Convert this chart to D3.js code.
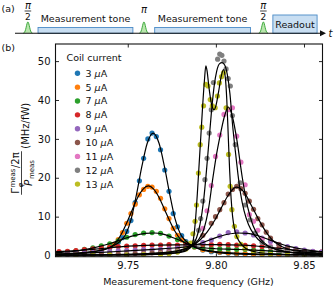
<!DOCTYPE html>
<html><head><meta charset="utf-8">
<script src="https://cdn.jsdelivr.net/npm/d3@7/dist/d3.min.js"></script>
<style>
body{margin:0;background:#fff}
svg{display:block}
text{font-family:"DejaVu Sans",Verdana,sans-serif;fill:#111}
</style></head>
<body><svg id="c" width="334" height="289"></svg>
<script>
// ---------------- data (panel b) ----------------
const currents = ["3", "5", "7", "8", "9", "10", "11", "12", "13"];
const colors = ["#1f77b4","#ff7f0e","#2ca02c","#d62728","#9467bd","#8c564b","#e377c2","#7f7f7f","#bcbd22"];
const xTicks = [9.75, 9.80, 9.85];
const yTicks = [0, 10, 20, 30, 40, 50];

// measured points [frequency GHz, value MHz/fW]
const pts3 = [[9.7110,0.3],[9.7158,0.4],[9.7206,0.5],[9.7254,0.7],[9.7302,0.9],[9.7350,1.4],[9.7398,2.0],[9.7422,2.6],[9.7446,3.4],[9.7470,4.6],[9.7494,6.2],[9.7518,9.0],[9.7542,13.6],[9.7566,19.2],[9.7590,25.0],[9.7614,30.0],[9.7638,31.5],[9.7662,30.6],[9.7686,27.2],[9.7710,22.0],[9.7734,16.5],[9.7758,10.8],[9.7782,7.4],[9.7806,5.1],[9.7830,3.6],[9.7854,2.9],[9.7878,2.2],[9.7926,1.4],[9.7974,1.0],[9.8022,0.8],[9.8070,0.6],[9.8118,0.4],[9.8166,0.35],[9.8214,0.3],[9.8262,0.25],[9.8310,0.2],[9.8358,0.2],[9.8406,0.2],[9.8454,0.15],[9.8502,0.15],[9.8550,0.1],[9.8598,0.1]];
const pts5 = [[9.7110,0.5],[9.7158,0.6],[9.7206,0.7],[9.7254,0.9],[9.7302,1.1],[9.7350,1.5],[9.7398,2.2],[9.7422,2.9],[9.7446,4.1],[9.7470,5.9],[9.7494,8.3],[9.7518,10.8],[9.7542,13.2],[9.7566,15.6],[9.7590,17.0],[9.7614,17.8],[9.7638,17.6],[9.7662,16.5],[9.7686,14.7],[9.7710,12.0],[9.7734,9.5],[9.7758,7.0],[9.7782,5.2],[9.7806,4.0],[9.7830,3.2],[9.7854,2.7],[9.7878,2.2],[9.7926,1.5],[9.7974,1.2],[9.8022,0.9],[9.8070,0.7],[9.8118,0.6],[9.8166,0.5],[9.8214,0.45],[9.8262,0.4],[9.8310,0.35],[9.8358,0.3],[9.8406,0.3],[9.8454,0.25],[9.8502,0.2],[9.8550,0.2],[9.8598,0.2]];
const pts7 = [[9.7110,0.8],[9.7158,1.0],[9.7206,1.2],[9.7254,1.6],[9.7302,2.0],[9.7350,2.5],[9.7398,3.0],[9.7446,3.8],[9.7494,4.7],[9.7542,5.4],[9.7590,5.8],[9.7638,5.9],[9.7686,5.7],[9.7734,5.0],[9.7782,4.1],[9.7830,3.2],[9.7878,2.3],[9.7926,2.0],[9.7974,1.8],[9.8022,1.7],[9.8070,1.7],[9.8118,1.6],[9.8166,1.6],[9.8214,1.4],[9.8262,1.3],[9.8310,1.1],[9.8358,0.9],[9.8406,0.8],[9.8454,0.7],[9.8502,0.6],[9.8550,0.5],[9.8598,0.5]];
const pts8 = [[9.7110,1.0],[9.7158,1.1],[9.7206,1.3],[9.7254,1.5],[9.7302,1.7],[9.7350,1.9],[9.7398,2.1],[9.7446,2.3],[9.7494,2.4],[9.7542,2.5],[9.7590,2.6],[9.7638,2.7],[9.7686,2.7],[9.7734,2.8],[9.7782,2.7],[9.7830,2.8],[9.7878,2.8],[9.7926,2.9],[9.7974,2.8],[9.8022,2.9],[9.8070,2.8],[9.8118,2.7],[9.8166,2.6],[9.8214,2.5],[9.8262,2.3],[9.8310,2.1],[9.8358,1.9],[9.8406,1.6],[9.8454,1.4],[9.8502,1.2],[9.8550,1.0],[9.8598,0.9]];
const pts9 = [[9.7110,0.4],[9.7158,0.5],[9.7206,0.6],[9.7254,0.7],[9.7302,0.8],[9.7350,0.9],[9.7398,1.0],[9.7446,1.2],[9.7494,1.3],[9.7542,1.4],[9.7590,1.5],[9.7638,1.5],[9.7686,1.6],[9.7734,1.7],[9.7782,1.9],[9.7830,2.2],[9.7878,2.7],[9.7926,3.3],[9.7974,4.0],[9.8022,5.0],[9.8070,5.9],[9.8118,6.1],[9.8166,5.8],[9.8214,5.3],[9.8262,4.5],[9.8310,3.6],[9.8358,2.9],[9.8406,2.3],[9.8454,1.8],[9.8502,1.4],[9.8550,1.1],[9.8598,0.9]];
const pts10 = [[9.7110,0.15],[9.7158,0.2],[9.7206,0.2],[9.7254,0.25],[9.7302,0.3],[9.7350,0.3],[9.7398,0.35],[9.7446,0.4],[9.7494,0.45],[9.7542,0.5],[9.7590,0.6],[9.7638,0.7],[9.7686,0.8],[9.7734,1.0],[9.7782,1.4],[9.7830,2.0],[9.7878,3.0],[9.7926,5.2],[9.7974,8.3],[9.7998,10.0],[9.8022,11.8],[9.8046,13.6],[9.8070,15.8],[9.8094,17.0],[9.8118,17.8],[9.8142,17.2],[9.8166,16.0],[9.8190,14.0],[9.8214,11.9],[9.8238,9.5],[9.8262,7.9],[9.8286,6.0],[9.8310,4.5],[9.8358,2.8],[9.8406,1.8],[9.8454,1.2],[9.8502,0.9],[9.8550,0.7],[9.8598,0.5]];
const pts11 = [[9.7110,0.1],[9.7206,0.1],[9.7302,0.15],[9.7398,0.2],[9.7494,0.25],[9.7590,0.35],[9.7686,0.5],[9.7734,0.7],[9.7782,1.1],[9.7830,1.8],[9.7878,3.2],[9.7926,7.0],[9.7950,11.5],[9.7974,18.0],[9.7998,25.5],[9.8022,31.0],[9.8046,36.3],[9.8070,37.5],[9.8094,38.0],[9.8118,30.7],[9.8142,24.0],[9.8166,18.2],[9.8190,10.5],[9.8214,8.8],[9.8238,6.5],[9.8262,4.2],[9.8310,2.4],[9.8358,1.3],[9.8406,0.9],[9.8454,0.6],[9.8502,0.45],[9.8550,0.35],[9.8598,0.3]];
const pts12 = [[9.7110,0.1],[9.7206,0.1],[9.7302,0.1],[9.7398,0.15],[9.7494,0.2],[9.7590,0.3],[9.7686,0.45],[9.7734,0.6],[9.7782,1.0],[9.7830,1.8],[9.7878,3.5],[9.7902,6.5],[9.7914,9.5],[9.7926,14.0],[9.7938,19.5],[9.7950,25.0],[9.7962,31.5],[9.7974,37.5],[9.7986,44.5],[9.8010,50.5],[9.8022,51.8],[9.8034,51.5],[9.8046,50.0],[9.8058,48.0],[9.8070,45.5],[9.8082,43.6],[9.8094,36.0],[9.8110,28.5],[9.8138,18.7],[9.8166,13.0],[9.8195,9.2],[9.8223,5.8],[9.8262,3.4],[9.8310,2.2],[9.8358,1.4],[9.8406,0.9],[9.8454,0.6],[9.8502,0.45],[9.8550,0.35],[9.8598,0.3]];
const pts13 = [[9.7110,0.1],[9.7206,0.1],[9.7302,0.12],[9.7398,0.15],[9.7494,0.2],[9.7590,0.25],[9.7686,0.35],[9.7734,0.5],[9.7782,0.9],[9.7830,1.7],[9.7858,3.2],[9.7870,5.6],[9.7882,8.8],[9.7890,13.0],[9.7901,21.2],[9.7911,28.5],[9.7920,33.0],[9.7930,38.5],[9.7943,44.0],[9.7955,43.6],[9.7968,40.1],[9.7980,38.5],[9.7996,38.0],[9.8009,41.0],[9.8020,44.4],[9.8032,46.0],[9.8043,47.0],[9.8058,38.0],[9.8072,26.0],[9.8081,17.8],[9.8091,11.8],[9.8105,7.5],[9.8119,4.9],[9.8142,2.9],[9.8166,1.8],[9.8214,1.0],[9.8262,0.6],[9.8310,0.4],[9.8406,0.25],[9.8502,0.2],[9.8598,0.15]];

// fitted curves [frequency GHz, value]
const fit3 = [[9.700,0.2],[9.718,0.45],[9.731,1.0],[9.737,1.6],[9.7419,2.5],[9.746,3.8],[9.749,5.6],[9.752,9.5],[9.755,15.8],[9.758,22.9],[9.761,28.8],[9.7644,31.5],[9.7678,28.8],[9.7708,22.9],[9.7738,15.8],[9.7768,9.5],[9.7798,5.6],[9.7828,3.8],[9.7865,2.5],[9.791,1.6],[9.797,1.0],[9.810,0.45],[9.830,0.2],[9.865,0.1]];
const fit5 = [[9.700,0.3],[9.720,0.6],[9.730,1.0],[9.737,1.6],[9.7407,2.3],[9.7437,3.6],[9.7467,5.8],[9.7497,8.7],[9.7527,11.9],[9.7557,15.0],[9.7587,17.1],[9.7617,17.9],[9.7647,17.1],[9.7677,15.0],[9.7707,12.0],[9.7737,9.0],[9.7767,6.3],[9.7797,4.3],[9.783,3.1],[9.7865,2.4],[9.792,1.6],[9.800,1.0],[9.815,0.55],[9.835,0.3],[9.865,0.15]];
const fit7 = [[9.700,0.5],[9.710,0.75],[9.720,1.1],[9.730,1.9],[9.740,3.1],[9.747,4.2],[9.754,5.2],[9.760,5.7],[9.765,5.8],[9.770,5.5],[9.775,4.7],[9.781,3.6],[9.7865,2.5],[9.793,2.0],[9.800,1.75],[9.810,1.6],[9.820,1.45],[9.830,1.2],[9.840,0.9],[9.850,0.7],[9.865,0.5]];
const fit8 = [[9.700,0.8],[9.710,1.0],[9.720,1.25],[9.730,1.6],[9.740,2.0],[9.750,2.4],[9.760,2.6],[9.780,2.75],[9.800,2.8],[9.815,2.7],[9.825,2.35],[9.835,1.9],[9.845,1.4],[9.855,1.05],[9.865,0.8]];
const fit9 = [[9.700,0.3],[9.720,0.5],[9.735,0.8],[9.750,1.2],[9.765,1.6],[9.778,2.0],[9.7865,2.5],[9.793,3.4],[9.800,4.6],[9.806,5.4],[9.812,5.8],[9.818,5.7],[9.824,5.1],[9.830,4.1],[9.836,3.1],[9.842,2.3],[9.850,1.6],[9.858,1.1],[9.865,0.9]];
const fit10 = [[9.700,0.1],[9.740,0.25],[9.760,0.5],[9.775,1.0],[9.7865,2.5],[9.791,4.0],[9.795,6.0],[9.799,8.8],[9.803,12.2],[9.807,15.5],[9.8115,17.6],[9.816,16.3],[9.820,13.0],[9.824,9.5],[9.828,6.4],[9.832,4.0],[9.837,2.4],[9.844,1.3],[9.852,0.8],[9.865,0.4]];
const fit11 = [[9.700,0.05],[9.750,0.2],[9.770,0.6],[9.780,1.3],[9.7865,2.6],[9.790,4.0],[9.793,6.5],[9.796,12.5],[9.798,19.0],[9.800,25.0],[9.8025,31.0],[9.805,36.0],[9.807,38.2],[9.8095,35.5],[9.812,29.5],[9.815,20.0],[9.818,12.5],[9.821,7.8],[9.825,4.4],[9.830,2.4],[9.837,1.2],[9.847,0.6],[9.865,0.25]];
const fit12 = [[9.700,0.05],[9.760,0.25],[9.775,0.6],[9.782,1.3],[9.7865,2.6],[9.789,4.5],[9.791,8.0],[9.793,14.0],[9.7945,21.0],[9.796,29.0],[9.7975,37.0],[9.799,43.5],[9.8005,47.5],[9.802,49.3],[9.8035,49.6],[9.805,49.0],[9.8065,46.5],[9.808,41.5],[9.8095,33.5],[9.811,27.0],[9.8125,21.0],[9.814,16.0],[9.816,11.5],[9.8185,8.0],[9.822,5.2],[9.827,3.0],[9.833,1.8],[9.840,1.0],[9.850,0.5],[9.865,0.25]];
const fit13 = [[9.700,0.05],[9.750,0.15],[9.770,0.35],[9.780,0.8],[9.784,1.5],[9.7865,2.6],[9.7875,5.0],[9.7885,9.5],[9.7895,16.0],[9.7905,23.5],[9.7915,31.0],[9.7925,38.5],[9.7935,45.0],[9.7943,48.8],[9.795,47.5],[9.796,43.5],[9.7975,39.0],[9.799,37.5],[9.800,38.5],[9.8015,42.0],[9.803,46.0],[9.8043,47.8],[9.8053,46.0],[9.8062,40.0],[9.807,31.0],[9.8078,22.0],[9.8086,15.0],[9.8095,10.0],[9.811,6.0],[9.8135,3.5],[9.817,1.8],[9.823,0.9],[9.833,0.45],[9.850,0.2],[9.865,0.1]];

const allPts = [pts3, pts5, pts7, pts8, pts9, pts10, pts11, pts12, pts13];
const allFits = [fit3, fit5, fit7, fit8, fit9, fit10, fit11, fit12, fit13];

// ---------------- data (panel a: pulse sequence, schematic time units) ----------------
const pulseTimes = [4.2, 42.0, 80.9];
const pulseLabels = ["π/2", "π", "π/2"];
const toneStarts = [7.5, 45.5];
const toneEnds = [38.4, 76.7];
const toneLabel = "Measurement tone";
const readoutSpan = [84.0, 98.4];
const readoutLabel = "Readout";

// ---------------- drawing ----------------
const svg = d3.select("#c");
const FS = 9.5;

// ===== panel (a) =====
const tScale = d3.scaleLinear().domain([0, 100]).range([15, 322]);
const baseY = 33.3;
svg.append("text").attr("x", 1.5).attr("y", 12).attr("font-size", FS).text("(a)");

toneStarts.forEach((t0, i) => {
  const x0 = tScale(t0), x1 = tScale(toneEnds[i]);
  svg.append("rect").attr("x", x0).attr("y", baseY - 5.8).attr("width", x1 - x0).attr("height", 5.8)
    .attr("fill", "#c8def2").attr("stroke", "#4a8ac6").attr("stroke-width", 0.9);
  svg.append("text").attr("x", (x0 + x1) / 2).attr("y", 21.5).attr("text-anchor", "middle")
    .attr("font-size", FS).text(toneLabel);
});
{
  const x0 = tScale(readoutSpan[0]), x1 = tScale(readoutSpan[1]);
  svg.append("rect").attr("x", x0).attr("y", 15).attr("width", x1 - x0).attr("height", baseY - 15)
    .attr("fill", "#c8def2").attr("stroke", "#4a8ac6").attr("stroke-width", 0.9);
  svg.append("text").attr("x", (x0 + x1) / 2).attr("y", 28).attr("text-anchor", "middle")
    .attr("font-size", FS).text(readoutLabel);
}
const pulseShape = d3.range(-1, 1.0001, 0.1).map(u => [u * 4.6, Math.exp(-u * u * 4.5) * 11.5]);
const pulseLine = d3.line().x(d => d[0]).y(d => -d[1]).curve(d3.curveBasis);
pulseTimes.forEach((t, i) => {
  const g = svg.append("g").attr("transform", `translate(${tScale(t)},${baseY})`);
  g.append("path").attr("d", pulseLine(pulseShape)).attr("fill", "#b9e6ad")
    .attr("stroke", "#2ca02c").attr("stroke-width", 0.9);
  const lab = pulseLabels[i];
  if (lab.includes("/")) {
    const [num, den] = lab.split("/");
    g.append("text").attr("x", 0).attr("y", -24.5).attr("text-anchor", "middle")
      .attr("font-size", 10).attr("font-style", "italic").text(num);
    g.append("line").attr("x1", -3.3).attr("x2", 3.3).attr("y1", -22.3).attr("y2", -22.3)
      .attr("stroke", "#111").attr("stroke-width", 0.8);
    g.append("text").attr("x", 0).attr("y", -13.5).attr("text-anchor", "middle")
      .attr("font-size", 9).text(den);
  } else {
    g.append("text").attr("x", 0).attr("y", -20).attr("text-anchor", "middle")
      .attr("font-size", 10).attr("font-style", "italic").text(lab);
  }
});
svg.append("line").attr("x1", tScale(0)).attr("x2", tScale(100)).attr("y1", baseY).attr("y2", baseY)
  .attr("stroke", "#111").attr("stroke-width", 1.1);
svg.append("path").attr("d", `M${tScale(100) + 4},${baseY} L${tScale(100) - 2},${baseY - 3} L${tScale(100) - 2},${baseY + 3} Z`)
  .attr("fill", "#111");
svg.append("text").attr("x", 328.5).attr("y", 37).attr("font-size", 10).attr("font-style", "italic").text("t");

// ===== panel (b) =====
svg.append("text").attr("x", 1.5).attr("y", 51).attr("font-size", FS).text("(b)");
const L = 55.5, R = 322.5, T = 44, B = 256.7;
const x = d3.scaleLinear().domain([9.709, 9.8605]).range([L, R]);
const y = d3.scaleLinear().domain([-0.3, 54.4]).range([B, T]);

const plot = svg.append("g");
plot.append("clipPath").attr("id", "clip").append("rect")
  .attr("x", L).attr("y", T).attr("width", R - L).attr("height", B - T);
const inner = plot.append("g").attr("clip-path", "url(#clip)");
const line = d3.line().x(d => x(d[0])).y(d => y(d[1])).curve(d3.curveMonotoneX);

allPts.forEach((pts, i) => {
  inner.append("g").selectAll("circle").data(pts).join("circle")
    .attr("cx", d => x(d[0])).attr("cy", d => y(d[1])).attr("r", 2.6)
    .attr("fill", colors[i]);
});
allFits.forEach((fit, i) => {
  inner.append("path").attr("d", line(fit)).attr("fill", "none")
    .attr("stroke", "#000").attr("stroke-width", 1.2);
});

const fmtX = d3.format(".2f");
const axB = svg.append("g").attr("transform", `translate(0,${B})`)
  .call(d3.axisBottom(x).tickValues(xTicks).tickFormat(fmtX).tickSizeInner(-3.5).tickSizeOuter(0).tickPadding(5));
const axT = svg.append("g").attr("transform", `translate(0,${T})`)
  .call(d3.axisTop(x).tickValues(xTicks).tickFormat("").tickSizeInner(-3.5).tickSizeOuter(0));
const axL = svg.append("g").attr("transform", `translate(${L},0)`)
  .call(d3.axisLeft(y).tickValues(yTicks).tickFormat(d3.format("d")).tickSizeInner(-3.5).tickSizeOuter(0).tickPadding(5));
const axR = svg.append("g").attr("transform", `translate(${R},0)`)
  .call(d3.axisRight(y).tickValues(yTicks).tickFormat("").tickSizeInner(-3.5).tickSizeOuter(0));
[axB, axT, axL, axR].forEach(a => {
  a.select(".domain").remove();
  a.selectAll("line").attr("stroke", "#111").attr("stroke-width", 0.9);
  a.selectAll("text").attr("font-size", 10).attr("font-family", '"DejaVu Sans",Verdana,sans-serif').attr("fill", "#111");
});
svg.append("rect").attr("x", L).attr("y", T).attr("width", R - L).attr("height", B - T)
  .attr("fill", "none").attr("stroke", "#111").attr("stroke-width", 1.1);

svg.append("text").attr("x", (L + R) / 2 - 0.5).attr("y", 285).attr("text-anchor", "middle")
  .attr("font-size", FS).text("Measurement-tone frequency (GHz)");

// y label (rotated fraction)
const yl = svg.append("g").attr("transform", "translate(24,152) rotate(-90)");
{
  const cx = -21;
  const num = yl.append("g");
  const gam = num.append("text").attr("font-size", 10.5).attr("y", -5).text("Γ");
  const gw = gam.node().getComputedTextLength();
  const sup = num.append("text").attr("font-size", 7).attr("x", gw + 0.3).attr("y", -9.5).text("meas");
  const sw = sup.node().getComputedTextLength();
  num.append("text").attr("font-size", 7).attr("font-style", "italic").attr("x", gw + 0.3).attr("y", -1.3).text("φ");
  const rest = num.append("text").attr("font-size", 10).attr("x", gw + sw + 0.8).attr("y", -5).text("/2π");
  const total = gw + sw + 0.8 + rest.node().getComputedTextLength();
  num.attr("transform", `translate(${cx - total / 2},0)`);
  yl.append("line").attr("x1", cx - total / 2 - 1).attr("x2", cx + total / 2 + 1).attr("y1", -2.5).attr("y2", -2.5)
    .attr("stroke", "#111").attr("stroke-width", 0.8);
  const den = yl.append("g");
  const P = den.append("text").attr("font-size", 10.5).attr("font-style", "italic").attr("y", 7.5).text("P");
  const pw = P.node().getComputedTextLength();
  const sub = den.append("text").attr("font-size", 7).attr("x", pw + 0.5).attr("y", 10).text("meas");
  const dw = pw + 0.5 + sub.node().getComputedTextLength();
  den.attr("transform", `translate(${cx - dw / 2},0)`);
  yl.append("text").attr("x", cx + total / 2 + 3.5).attr("y", 5).attr("font-size", 10).text("(MHz/fW)");
}

// legend
const lg = svg.append("g");
lg.append("text").attr("x", 66.5).attr("y", 61).attr("font-size", FS).text("Coil current");
currents.forEach((c, i) => {
  const yy = 73.3 + i * 13.85;
  lg.append("circle").attr("cx", 77.5).attr("cy", yy).attr("r", 2.7).attr("fill", colors[i]);
  const t = lg.append("text").attr("x", 85.5).attr("y", yy + 3.4).attr("font-size", FS);
  t.append("tspan").text(c + " ");
  t.append("tspan").attr("font-style", "italic").text("μ");
  t.append("tspan").text("A");
});
</script></body></html>
